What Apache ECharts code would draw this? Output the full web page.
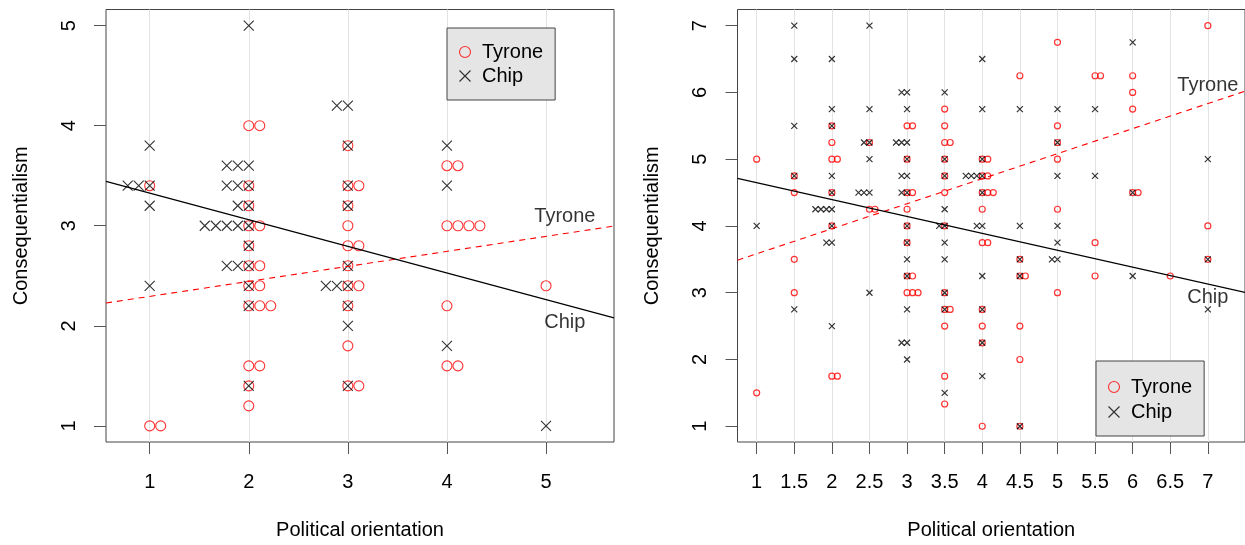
<!DOCTYPE html>
<html><head><meta charset="utf-8">
<script src="https://cdn.jsdelivr.net/npm/echarts@6/dist/echarts.min.js"></script>
<style>html,body{margin:0;padding:0;background:#fff}#c{width:1245px;height:545px}</style>
</head><body><div id="c"></div>
<script>
// ---- data: [x, y, number of observations at that point] ----
const leftTyrone = [
  [1,3.4,1],[1,1,2],
  [2,4,2],[2,3.4,1],[2,3.2,1],[2,3,2],[2,2.8,1],[2,2.6,2],[2,2.4,2],[2,2.2,3],[2,1.6,2],[2,1.4,1],[2,1.2,1],
  [3,3.8,1],[3,3.4,2],[3,3.2,1],[3,3,1],[3,2.8,2],[3,2.6,1],[3,2.4,2],[3,2.2,1],[3,1.8,1],[3,1.4,2],
  [4,3.6,2],[4,3,4],[4,2.2,1],[4,1.6,2],
  [5,2.4,1]
];
const leftChip = [
  [1,3.8,1],[1,3.4,3],[1,3.2,1],[1,2.4,1],
  [2,5,1],[2,3.6,3],[2,3.4,3],[2,3.2,2],[2,3,5],[2,2.8,1],[2,2.6,3],[2,2.4,1],[2,2.2,1],[2,1.4,1],
  [3,4.2,2],[3,3.8,1],[3,3.4,1],[3,3.2,1],[3,2.6,1],[3,2.4,3],[3,2.2,1],[3,2,1],[3,1.4,1],
  [4,3.8,1],[4,3.4,1],[4,1.8,1],
  [5,1,1]
];
const rightTyrone = [
  [1,5,1],[1,1.5,1],
  [1.5,4.75,1],[1.5,4.5,1],[1.5,3.5,1],[1.5,3,1],
  [2,5.5,1],[2,5.25,1],[2,5,2],[2,4.5,1],[2,4,1],[2,1.75,2],
  [2.5,5.25,1],[2.5,4.25,2],
  [3,5.5,2],[3,5,1],[3,4.5,2],[3,4.25,1],[3,4,1],[3,3.75,1],[3,3.25,2],[3,3,3],
  [3.5,5.75,1],[3.5,5.5,1],[3.5,5.25,2],[3.5,5,1],[3.5,4.75,1],[3.5,4.5,1],[3.5,4,1],[3.5,3,1],[3.5,2.75,2],[3.5,2.5,1],[3.5,1.75,1],[3.5,1.333,1],
  [4,5,2],[4,4.75,2],[4,4.5,3],[4,4.25,1],[4,3.75,2],[4,2.75,1],[4,2.5,1],[4,2.25,1],[4,1,1],
  [4.5,6.25,1],[4.5,3.5,1],[4.5,3.25,2],[4.5,2.5,1],[4.5,2,1],[4.5,1,1],
  [5,6.75,1],[5,5.5,1],[5,5.25,1],[5,5,1],[5,4.25,1],[5,3,1],
  [5.5,6.25,2],[5.5,3.75,1],[5.5,3.25,1],
  [6,6.25,1],[6,6,1],[6,5.75,1],[6,4.5,2],
  [6.5,3.25,1],
  [7,7,1],[7,4,1],[7,3.5,1]
];
const rightChip = [
  [1,4,1],
  [1.5,7,1],[1.5,6.5,1],[1.5,5.5,1],[1.5,4.75,1],[1.5,2.75,1],
  [2,6.5,1],[2,5.75,1],[2,5.5,1],[2,4.75,1],[2,4.5,1],[2,4.25,4],[2,4,1],[2,3.75,2],[2,2.5,1],
  [2.5,7,1],[2.5,5.75,1],[2.5,5.25,2],[2.5,5,1],[2.5,4.5,3],[2.5,3,1],
  [3,6,2],[3,5.75,1],[3,5.25,3],[3,5,1],[3,4.75,2],[3,4.5,2],[3,4,1],[3,3.75,1],[3,3.5,1],[3,3.25,1],[3,2.75,1],[3,2.25,2],[3,2,1],
  [3.5,6,1],[3.5,5,1],[3.5,4.75,1],[3.5,4.25,1],[3.5,4,2],[3.5,3.75,1],[3.5,3.5,1],[3.5,3,1],[3.5,2.75,1],[3.5,1.5,1],
  [4,6.5,1],[4,5.75,1],[4,5,1],[4,4.75,4],[4,4.5,1],[4,4,2],[4,3.25,1],[4,2.75,1],[4,2.25,1],[4,1.75,1],
  [4.5,5.75,1],[4.5,4,1],[4.5,3.5,1],[4.5,3.25,1],[4.5,1,1],
  [5,5.75,1],[5,5.25,1],[5,4.75,1],[5,4,1],[5,3.75,1],[5,3.5,2],
  [5.5,5.75,1],[5.5,4.75,1],
  [6,6.75,1],[6,4.5,1],[6,3.25,1],
  [7,5,1],[7,3.5,1],[7,2.75,1]
];
const leftXTicks = [1,2,3,4,5];
const leftYTicks = [1,2,3,4,5];
const rightXTicks = [1,1.5,2,2.5,3,3.5,4,4.5,5,5.5,6,6.5,7];
const rightYTicks = [1,2,3,4,5,6,7];
// fitted lines: [intercept, slope]
const leftFitTyrone = [2.144, 0.150];
const leftFitChip = [3.592, -0.266];
const rightFitTyrone = [3.208, 0.375];
const rightFitChip = [4.901, -0.253];
// line annotations: [text, x, y]
const leftNotes = [['Tyrone', 5.19, 3.095], ['Chip', 5.19, 2.03]];
const rightNotes = [['Tyrone', 7.0, 6.10], ['Chip', 7.0, 2.93]];

// ---- layout ----
const FONT = "'Liberation Sans', Arial, Helvetica, sans-serif";
const L = {xmin:0.559, xmax:5.686, ymin:0.839, ymax:5.161, step:0.111, size:10, bw:1.1};
const R = {xmin:0.745, xmax:7.494, ymin:0.764, ymax:7.242, step:0.073, size:6, bw:1.2};
const CROSS = 'path://M0,0L10,10M10,0L0,10';

function stack(rows, step, dir) {
  const out = [];
  rows.forEach(([x, y, n]) => { for (let k = 0; k < n; k++) out.push([x + dir * k * step, y]); });
  return out;
}
function fitLine(fit, a) {
  return [[a.xmin, fit[0] + fit[1] * a.xmin], [a.xmax, fit[0] + fit[1] * a.xmax]];
}
function xAxisCfg(gi, a, ticks) {
  return {type:'value', gridIndex:gi, min:a.xmin, max:a.xmax,
    name:'Political orientation', nameLocation:'middle', nameGap:78,
    nameTextStyle:{fontSize:20, color:'#000', fontFamily:FONT},
    axisLine:{show:false, onZero:false},
    axisTick:{show:true, customValues:ticks, length:12, lineStyle:{color:'#555', width:1}},
    axisLabel:{customValues:ticks, fontSize:20, color:'#000', margin:30, fontFamily:FONT},
    splitLine:{show:false}};
}
function yAxisCfg(gi, a, ticks) {
  return {type:'value', gridIndex:gi, min:a.ymin, max:a.ymax,
    name:'Consequentialism', nameLocation:'middle', nameGap:75, nameRotate:90,
    nameTextStyle:{fontSize:20, color:'#000', fontFamily:FONT},
    axisLine:{show:false, onZero:false},
    axisTick:{show:true, customValues:ticks, length:12, lineStyle:{color:'#555', width:1}},
    axisLabel:{customValues:ticks, fontSize:20, color:'#000', margin:27, rotate:90, fontFamily:FONT},
    splitLine:{show:false}};
}
function panelSeries(gi, a, tyr, chip, ftyr, fchip, notes, ticks) {
  return [
    {type:'line', name:'grid'+gi, xAxisIndex:gi, yAxisIndex:gi, data:[], z:1, silent:true,
     markLine:{silent:true, z:1, symbol:['none','none'], label:{show:false}, animation:false,
       lineStyle:{color:'#e3e3e3', width:1, type:'solid'},
       data:ticks.map(v => ({xAxis:v}))}},
    {type:'scatter', name:'Tyrone', xAxisIndex:gi, yAxisIndex:gi, z:2,
     symbol:'circle', symbolSize:a.size, data:stack(tyr, a.step, 1),
     itemStyle:{color:'rgba(0,0,0,0)', borderColor:'#ff0000', borderWidth:a.bw}},
    {type:'scatter', name:'Chip', xAxisIndex:gi, yAxisIndex:gi, z:2,
     symbol:CROSS, symbolSize:a.size, data:stack(chip, a.step, -1),
     itemStyle:{color:'none', borderColor:'#000', borderWidth:a.bw}},
    {type:'line', name:'fitT'+gi, xAxisIndex:gi, yAxisIndex:gi, z:3, symbol:'none',
     data:fitLine(ftyr, a), lineStyle:{color:'#ff0000', width:1.1, type:[6,5]}},
    {type:'line', name:'fitC'+gi, xAxisIndex:gi, yAxisIndex:gi, z:3, symbol:'none',
     data:fitLine(fchip, a), lineStyle:{color:'#000', width:1.1}},
    {type:'scatter', name:'notes'+gi, xAxisIndex:gi, yAxisIndex:gi, z:4, symbolSize:1,
     itemStyle:{color:'rgba(0,0,0,0)'},
     data:notes.map(n => ({name:n[0], value:[n[1], n[2]]})),
     label:{show:true, position:'inside', formatter:'{b}', fontSize:20, color:'#000', fontFamily:FONT}}
  ];
}
function legendCfg(left, top, padTop, padBottom, gap, padRight) {
  return {left:left, top:top, z:10, orient:'vertical', itemWidth:24, itemHeight:11, itemGap:gap,
    padding:[padTop, padRight, padBottom, 10], backgroundColor:'#e5e5e5', borderColor:'#444', borderWidth:1,
    borderRadius:0, selectedMode:false,
    textStyle:{fontSize:20, color:'#000', fontFamily:FONT, lineHeight:20},
    data:[
      {name:'Tyrone', icon:'circle', itemStyle:{color:'rgba(0,0,0,0)', borderColor:'#ff0000', borderWidth:1.1}},
      {name:'Chip', icon:CROSS, itemStyle:{color:'none', borderColor:'#000', borderWidth:1.1}}
    ]};
}

const chart = echarts.init(document.getElementById('c'), null, {renderer:'canvas'});
chart.setOption({
  animation:false,
  backgroundColor:'#fff',
  grid:[
    {left:106, top:9.5, width:508, height:434, show:true, borderColor:'#444', borderWidth:1, backgroundColor:'transparent'},
    {left:737.5, top:9.5, width:508, height:434, show:true, borderColor:'#444', borderWidth:1, backgroundColor:'transparent'}
  ],
  xAxis:[xAxisCfg(0, L, leftXTicks), xAxisCfg(1, R, rightXTicks)],
  yAxis:[yAxisCfg(0, L, leftYTicks), yAxisCfg(1, R, rightYTicks)],
  legend:[legendCfg(447, 28, 14, 14, 4, 12), legendCfg(1096, 361, 16, 14, 5, 12)],
  series:[].concat(
    panelSeries(0, L, leftTyrone, leftChip, leftFitTyrone, leftFitChip, leftNotes, leftXTicks),
    panelSeries(1, R, rightTyrone, rightChip, rightFitTyrone, rightFitChip, rightNotes, rightXTicks)
  )
});
</script></body></html>
